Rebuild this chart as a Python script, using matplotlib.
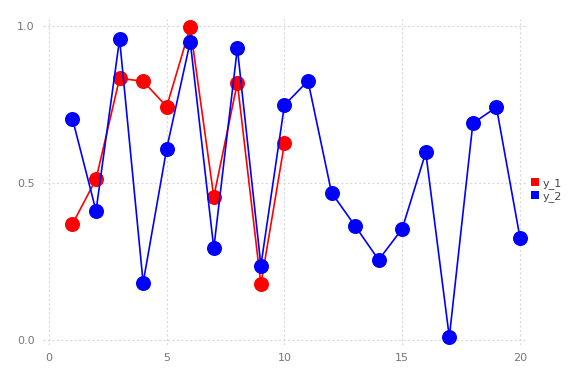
import matplotlib.pyplot as plt

x1 = [1, 2, 3, 4, 5, 6, 7, 8, 9, 10]
y_1 = [0.369, 0.512, 0.833, 0.824, 0.743, 0.996, 0.456, 0.819, 0.177, 0.626]

x2 = list(range(1, 21))
y_2 = [0.704, 0.411, 0.958, 0.182, 0.609, 0.950, 0.292, 0.929, 0.237, 0.748,
       0.825, 0.469, 0.363, 0.255, 0.354, 0.597, 0.009, 0.690, 0.741, 0.326]

xticks = [0, 5, 10, 15, 20]
yticks = [0.0, 0.5, 1.0]

fig = plt.figure(figsize=(5.76, 3.84), dpi=100)
ax = fig.add_axes([0.0747, 0.1016, 0.8403, 0.8489])

ax.plot(x1, y_1, color="red", lw=1.2, marker="o", ms=10.8, mew=0, zorder=3)
ax.plot(x2, y_2, color="blue", lw=1.2, marker="o", ms=10.8, mew=0, zorder=3)

ax.set_xlim(-0.25, 20.3)
ax.set_ylim(-0.016, 1.022)
ax.set_xticks(xticks)
ax.set_xticklabels([str(t) for t in xticks])
ax.set_yticks(yticks)
ax.set_yticklabels([f"{t:.1f}" for t in yticks])

for s in ax.spines.values():
    s.set_visible(False)
ax.tick_params(length=0, labelsize=8, labelcolor="#777777", pad=6)
ax.grid(True, color="#d8d8e0", linestyle=(0, (2, 2)), lw=0.8)
ax.set_axisbelow(True)

# legend entries as small squares
h1 = plt.Line2D([], [], color="red", marker="s", ls="", ms=6, mew=0)
h2 = plt.Line2D([], [], color="blue", marker="s", ls="", ms=6, mew=0)
fig.legend([h1, h2], ["y_1", "y_2"], loc="center left",
           bbox_to_anchor=(0.905, 0.505), frameon=False, fontsize=8,
           handlelength=0.6, handletextpad=0.4, labelspacing=0.2,
           labelcolor="#444444")

fig.savefig("out.png")
